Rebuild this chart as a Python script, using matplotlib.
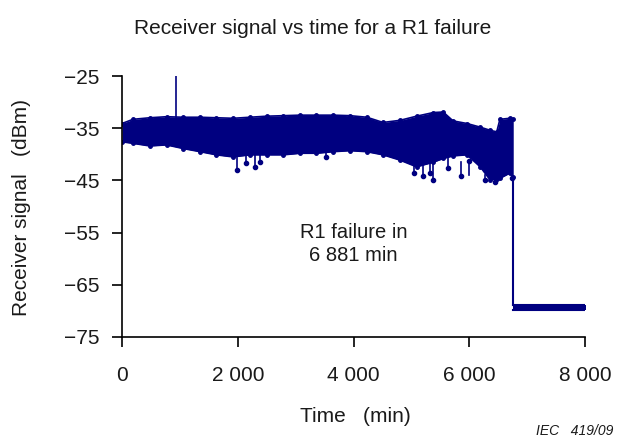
import matplotlib
matplotlib.use('Agg')
import matplotlib.pyplot as plt

plt.rcParams['font.family'] = ['Liberation Sans', 'DejaVu Sans']

# band envelope of the measured signal before the failure (min, dBm)
t_band = [0, 190, 480, 770, 1060, 1350, 1630, 1920, 2210, 2500, 2790, 3075,
          3360, 3650, 3940, 4230, 4510, 4800, 5090, 5380, 5550, 5720, 5960,
          6190, 6360, 6475, 6530, 6700, 6760]
band_top = [-34.1, -33.3, -33.0, -32.8, -32.9, -32.9, -33.0, -33.1, -32.9,
            -32.7, -32.6, -32.5, -32.5, -32.5, -32.6, -32.9, -33.9, -33.5,
            -32.7, -32.0, -31.9, -33.6, -34.1, -34.8, -35.4, -35.7, -33.3,
            -33.1, -33.2]
band_bottom = [-37.6, -37.9, -38.4, -38.2, -38.9, -39.5, -40.1, -40.5, -40.1,
               -40.1, -40.1, -39.8, -39.8, -39.5, -39.3, -39.5, -40.1, -41.1,
               -42.4, -41.5, -40.8, -40.3, -40.1, -42.4, -44.9, -44.8, -44.6,
               -43.6, -44.3]

# isolated dips below the band
t_dips = [1980, 2145, 2290, 2380, 3525, 5050, 5195, 5320, 5380, 5630, 5860,
          6000, 6275, 6445, 6745]
v_dips = [-43.0, -41.7, -42.5, -41.4, -40.6, -43.6, -44.1, -43.6, -44.9,
          -42.7, -44.1, -41.2, -44.9, -45.4, -44.5]

# single spike
t_spike = 933
v_spike = -25.0

# after the failure
t_fail = [6760, 8050]
fail_top = [-68.8, -68.8]
fail_bottom = [-69.9, -69.9]

xticks = [0, 2000, 4000, 6000, 8000]
xtick_labels = ['0', '2 000', '4 000', '6 000', '8 000']
yticks = [-75, -65, -55, -45, -35, -25]
ytick_labels = ['\u221275', '\u221265', '\u221255', '\u221245', '\u221235', '\u221225']

navy = '#000080'
txt = '#1a1a1a'


def main():
    fig = plt.figure(figsize=(6.23, 4.38), dpi=100)
    ax = fig.add_axes([122 / 623, 1 - 337 / 438, 463 / 623, 261 / 438])

    ax.fill_between(t_band, band_bottom, band_top, color=navy, lw=0)
    ax.plot(t_band, band_top, color=navy, lw=1.2, marker='o', ms=2.5)
    ax.plot(t_band, band_bottom, color=navy, lw=1.2, marker='o', ms=2.5)

    # dips drawn as stems from the band
    for t, v in zip(t_dips, v_dips):
        lo = min(b for tb, b in zip(t_band, band_bottom) if abs(tb - t) < 400)
        ax.plot([t, t], [lo + 1, v], color=navy, lw=1.2)
    ax.plot(t_dips, v_dips, 'o', color=navy, ms=3)

    ax.plot([t_spike, t_spike], [band_top[3], v_spike], color=navy, lw=1.2)

    # drop to failure level
    ax.plot([t_band[-1], t_fail[0]], [band_bottom[-1], fail_top[0]], color=navy, lw=1.5)
    ax.fill_between(t_fail, fail_bottom, fail_top, color=navy, lw=0)
    ax.plot(t_fail, fail_top, color=navy, lw=1.5)
    ax.plot(t_fail, fail_bottom, color=navy, lw=1.5)

    ax.set_xlim(0, 8000)
    ax.set_ylim(-75, -25)
    ax.set_xticks(xticks)
    ax.set_xticklabels(xtick_labels)
    ax.set_yticks(yticks)
    ax.set_yticklabels(ytick_labels)

    for s in ['top', 'right']:
        ax.spines[s].set_visible(False)
    for s in ['left', 'bottom']:
        ax.spines[s].set_linewidth(1.2)
    ax.tick_params(axis='x', direction='out', length=7, width=1.2, pad=14,
                   labelsize=15, labelcolor=txt)
    ax.tick_params(axis='y', direction='out', length=7, width=1.2, pad=9,
                   labelsize=15, labelcolor=txt)

    ax.text(4000, -57.2, 'R1 failure in\n6 881 min', ha='center', va='center',
            fontsize=14.5, linespacing=1.3, color=txt)

    fig.text(313 / 623, 1 - 29 / 438, 'Receiver signal vs time for a R1 failure',
             ha='center', va='center', fontsize=15, color=txt)
    fig.text(355 / 623, 1 - 416 / 438, 'Time   (min)', ha='center', va='center',
             fontsize=15, color=txt)
    fig.text(22 / 623, 1 - 207 / 438, 'Receiver signal   (dBm)', ha='center',
             va='center', rotation=90, fontsize=15, color=txt)
    fig.text(613 / 623, 1 - 431 / 438, 'IEC   419/09', ha='right', va='center',
             fontsize=10, style='italic', color=txt)

    fig.savefig('out.png', dpi=100)


if __name__ == '__main__':
    main()
